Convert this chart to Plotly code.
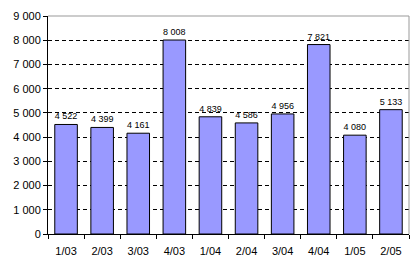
import plotly.graph_objects as go

categories = ["1/03", "2/03", "3/03", "4/03", "1/04", "2/04", "3/04", "4/04", "1/05", "2/05"]
values = [4522, 4399, 4161, 8008, 4839, 4586, 4956, 7821, 4080, 5133]
y_ticks = [0, 1000, 2000, 3000, 4000, 5000, 6000, 7000, 8000, 9000]
y_tick_labels = ["0", "1 000", "2 000", "3 000", "4 000", "5 000", "6 000", "7 000", "8 000", "9 000"]
value_labels = [f"{v:,}".replace(",", " ") for v in values]

fig = go.Figure()
fig.add_trace(go.Bar(
    x=categories, y=values,
    marker=dict(color="#9999FF", line=dict(color="black", width=1)),
    text=value_labels, textposition="outside", cliponaxis=False,
    textfont=dict(family="Liberation Sans, Arial, sans-serif", size=9, color="black"),
    hoverinfo="skip",
))

fig.update_layout(
    width=414, height=266,
    margin=dict(l=48, r=5, t=16, b=32),
    paper_bgcolor="white", plot_bgcolor="white",
    bargap=0.375,
    showlegend=False,
    font=dict(family="Liberation Sans, Arial, sans-serif", size=11, color="black"),
    xaxis=dict(
        type="category", tickson="boundaries", ticks="outside", ticklen=4,
        tickcolor="black", showline=True, linecolor="black", linewidth=1,
        showgrid=False, tickfont=dict(size=11), fixedrange=True,
        ticklabelstandoff=7,
    ),
    yaxis=dict(
        range=[0, 9000], tickvals=y_ticks, ticktext=y_tick_labels,
        ticks="outside", ticklen=4, tickcolor="black",
        showline=True, linecolor="black", linewidth=1,
        showgrid=True, gridcolor="black", gridwidth=1, griddash="4px,3px",
        zeroline=False, tickfont=dict(size=11), fixedrange=True,
    ),
)

# gray plot-area border on top and right
fig.add_shape(type="line", xref="paper", yref="paper", x0=0, x1=1, y0=1, y1=1,
              line=dict(color="#999999", width=1))
fig.add_shape(type="line", xref="paper", yref="paper", x0=1, x1=1, y0=0, y1=1,
              line=dict(color="#999999", width=1))

fig.write_html("out.html", config={"displayModeBar": False})
